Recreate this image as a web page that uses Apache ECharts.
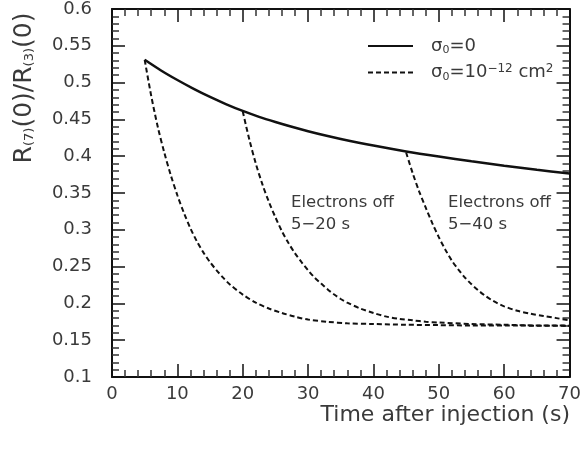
<!DOCTYPE html>
<html>
<head>
<meta charset="utf-8">
<script src="https://cdn.jsdelivr.net/npm/echarts@6/dist/echarts.min.js"></script>
<style>
  html, body { margin: 0; padding: 0; background: #fff; }
  #chart { width: 584px; height: 454px; }
</style>
</head>
<body>
<div id="chart"></div>
<script>
// Time after injection (s) and R(7)(0)/R(3)(0) for each case
const noLossT = [5, 7.5, 10, 12.5, 15, 17.5, 20, 22.5, 25, 27.5, 30, 32.5, 35, 40, 45, 50, 55, 60, 65, 70];
const noLossV = [0.531, 0.5165, 0.5035, 0.4915, 0.4805, 0.4705, 0.4615, 0.4535, 0.4465, 0.440, 0.434, 0.4285, 0.4235, 0.4145, 0.4065, 0.3995, 0.393, 0.387, 0.3815, 0.3765];

const off20T = [5, 6, 7, 8, 9, 10, 11, 12, 13, 14, 15, 16, 17, 18, 20, 22, 24, 26, 28, 30, 33, 36, 40, 45, 50, 55, 60, 65, 70];
const off20V = [0.531, 0.482, 0.440, 0.405, 0.374, 0.347, 0.323, 0.302, 0.284, 0.269, 0.256, 0.245, 0.235, 0.226, 0.212, 0.201, 0.193, 0.187, 0.182, 0.178, 0.175, 0.173, 0.172, 0.171, 0.1705, 0.170, 0.170, 0.1697, 0.1695];

const off40T = [20, 21, 22, 23, 24, 25, 26, 27, 28, 29, 30, 31, 32, 33, 34, 35, 36, 38, 40, 42, 44, 46, 48, 50, 55, 60, 65, 70];
const off40V = [0.461, 0.423, 0.390, 0.362, 0.338, 0.317, 0.298, 0.282, 0.268, 0.256, 0.245, 0.235, 0.227, 0.219, 0.212, 0.206, 0.201, 0.193, 0.187, 0.182, 0.179, 0.177, 0.175, 0.174, 0.172, 0.171, 0.170, 0.1698];

const late45T = [45, 46, 47, 48, 49, 50, 51, 52, 53, 54, 55, 56, 57, 58, 59, 60, 62, 64, 66, 68, 70];
const late45V = [0.405, 0.377, 0.352, 0.330, 0.309, 0.290, 0.273, 0.258, 0.246, 0.235, 0.226, 0.218, 0.211, 0.205, 0.200, 0.196, 0.190, 0.186, 0.183, 0.180, 0.177];

const xTicks = { min: 0, max: 70, step: 10 };
const yTicks = { min: 0.1, max: 0.6, step: 0.05 };

const pairs = (t, v) => t.map((x, i) => [x, v[i]]);

const FONT = '"DejaVu Sans", sans-serif';
const INK = '#111';
const TEXT = '#3a3a3a';
const SOLID_NAME = 'zero';
const DASH_NAME = 'cross';

function frameAxis(pos, showLabels, isX) {
  return {
    type: 'value',
    position: pos,
    min: isX ? xTicks.min : yTicks.min,
    max: isX ? xTicks.max : yTicks.max,
    interval: isX ? xTicks.step : yTicks.step,
    axisLine: { show: true, onZero: false, lineStyle: { color: INK, width: 2 } },
    axisTick: { show: true, inside: true, length: 13, lineStyle: { color: INK, width: 1.5 } },
    minorTick: { show: true, splitNumber: 5, length: 7, lineStyle: { color: '#333', width: 1.5 } },
    splitLine: { show: false },
    minorSplitLine: { show: false },
    axisLabel: {
      show: showLabels,
      fontFamily: FONT,
      fontSize: 18,
      color: TEXT,
      margin: isX ? 8 : 20,
      formatter: v => String(+v.toFixed(2))
    }
  };
}

const dashStyle = { color: INK, width: 2, type: [5, 3] };

const option = {
  animation: false,
  backgroundColor: '#fff',
  grid: { left: 112, right: 13, top: 9, bottom: 77, containLabel: false },
  xAxis: [frameAxis('bottom', true, true), frameAxis('top', false, true)],
  yAxis: [frameAxis('left', true, false), frameAxis('right', false, false)],
  legend: {
    show: true,
    orient: 'vertical',
    left: 362,
    top: 32,
    itemWidth: 45,
    itemHeight: 16,
    itemGap: 7,
    itemStyle: { opacity: 0 },
    data: [SOLID_NAME, DASH_NAME],
    formatter: name => name === SOLID_NAME
      ? '{t|σ}{sub|0}{t|=0}'
      : '{t|σ}{sub|0}{t|=10}{sup|−12}{t| cm}{sup|2}',
    textStyle: {
      padding: [0, 0, 0, 13],
      fontFamily: FONT,
      color: TEXT,
      rich: {
        t: { fontFamily: FONT, fontSize: 18, color: TEXT },
        sub: { fontFamily: FONT, fontSize: 11, color: TEXT, verticalAlign: 'bottom', padding: [8, 0, 0, 0] },
        sup: { fontFamily: FONT, fontSize: 12, color: TEXT, verticalAlign: 'top', padding: [0, 0, 8, 0] }
      }
    }
  },
  series: [
    {
      name: SOLID_NAME, type: 'line', xAxisIndex: 0, yAxisIndex: 0,
      symbol: 'none', smooth: 0.3,
      lineStyle: { color: INK, width: 2.5, type: 'solid' },
      itemStyle: { color: INK },
      data: pairs(noLossT, noLossV), z: 3
    },
    {
      name: DASH_NAME, type: 'line', symbol: 'none', smooth: 0.3,
      lineStyle: dashStyle, itemStyle: { color: INK },
      data: pairs(off20T, off20V)
    },
    {
      name: DASH_NAME, type: 'line', symbol: 'none', smooth: 0.3,
      lineStyle: dashStyle, itemStyle: { color: INK },
      data: pairs(off40T, off40V)
    },
    {
      name: DASH_NAME, type: 'line', symbol: 'none', smooth: 0.3,
      lineStyle: dashStyle, itemStyle: { color: INK },
      data: pairs(late45T, late45V)
    }
  ],
  graphic: [
    {
      type: 'text', right: 14, top: 404,
      style: { text: 'Time after injection (s)', fontFamily: FONT, fontSize: 22, fill: TEXT }
    },
    {
      type: 'text', x: 24, y: 88, rotation: Math.PI / 2,
      style: {
        text: '{t|R}{s|(7)}{t|(0)/R}{s|(3)}{t|(0)}',
        align: 'center', verticalAlign: 'middle',
        rich: {
          t: { fontFamily: FONT, fontSize: 25, fill: TEXT },
          s: { fontFamily: FONT, fontSize: 13, fill: TEXT, verticalAlign: 'bottom', padding: [10, 0, 0, 0] }
        }
      }
    },
    {
      type: 'text', left: 291, top: 192,
      style: { text: 'Electrons off\n5−20 s', fontFamily: FONT, fontSize: 16.5, lineHeight: 22, fill: TEXT }
    },
    {
      type: 'text', left: 448, top: 192,
      style: { text: 'Electrons off\n5−40 s', fontFamily: FONT, fontSize: 16.5, lineHeight: 22, fill: TEXT }
    }
  ]
};

const chart = echarts.init(document.getElementById('chart'), null, { renderer: 'canvas' });
chart.setOption(option);
</script>
</body>
</html>
